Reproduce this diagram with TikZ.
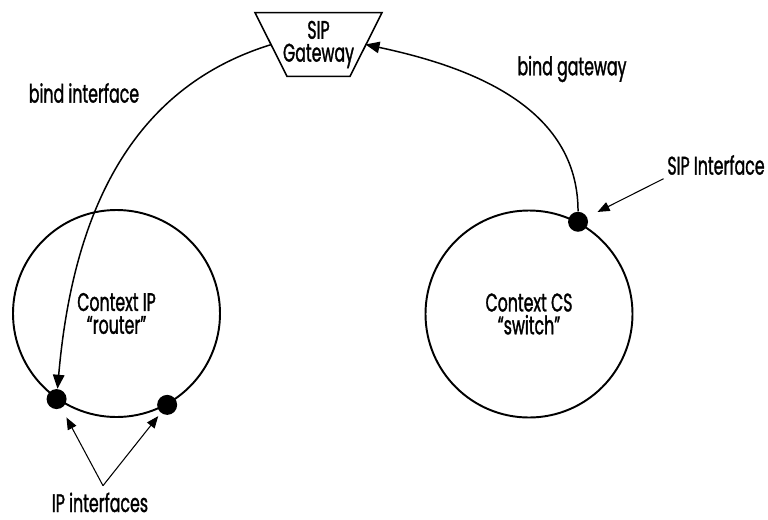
\documentclass[tikz,border=0pt]{standalone}
\usepackage{fontspec}
\setmainfont[FakeStretch=0.62, FakeBold=1.2]{Poppins}
\usetikzlibrary{positioning, calc, arrows.meta}

\begin{document}
\begin{tikzpicture}[>={Triangle[length=2.8mm,width=2.3mm]},
    every node/.style={font=\fontsize{14.5}{13}\selectfont, align=center},
    ctx/.style={circle, draw, line width=1.1pt, minimum size=4.14cm, inner sep=0pt},
    iface/.style={circle, fill=black, inner sep=0pt, minimum size=0.4cm},
    bind/.style={->, line width=0.85pt},
    pointer/.style={-{Triangle[length=2.4mm,width=1.9mm]}, line width=0.6pt}]
    \useasboundingbox (0,0) rectangle (15.36,10.38);

    % gateway: upside-down trapezium round the text
    \node[minimum width=2.54cm, minimum height=1.26cm, inner sep=0pt] (gw) at (6.37,9.49) {SIP\\Gateway};
    \draw[line width=0.9pt] ([xshift=-1.27cm]gw.north) -- ([xshift=1.27cm]gw.north)
        -- ([xshift=0.63cm]gw.south) -- ([xshift=-0.63cm]gw.south) -- cycle;
    \coordinate (gwin) at ([xshift=0.94cm]gw.center);
    \coordinate (gwout) at ([xshift=-0.94cm]gw.center);

    % the two contexts
    \node[ctx] (ctxip) at (2.33,4.11) {Context IP\\“router”};
    \node[ctx] (ctxcs) at (10.58,4.10) {Context CS\\“switch”};

    \node[iface] (ipa) at (ctxip.235.5) {};
    \node[iface] (ipb) at (ctxip.299) {};
    \node[iface] (sip) at (ctxcs.62) {};

    \draw[bind] (gwout) to[out=197, in=85] (ipa);
    \draw[bind] (sip) to[out=90, in=-12] (gwin);

    \node (bindif) at (1.68,8.52) {bind interface};
    \node (bindgw) at (11.44,9.00) {bind gateway};
    \node[inner sep=2pt] (sipl) at (14.32,7.08) {SIP Interface};
    \node[inner sep=2pt, anchor=base] (ipl) at (2.00,0.14) {IP interfaces};

    \draw[pointer, shorten >=0.23cm] (sipl.south west) -- (sip);
    \coordinate (ipfork) at ([xshift=0.06cm,yshift=0.06cm]ipl.north);
    \draw[pointer, shorten >=0.21cm] (ipfork) -- (ipa);
    \draw[pointer, shorten >=0.08cm] (ipfork) -- (ipb);
\end{tikzpicture}
\end{document}
